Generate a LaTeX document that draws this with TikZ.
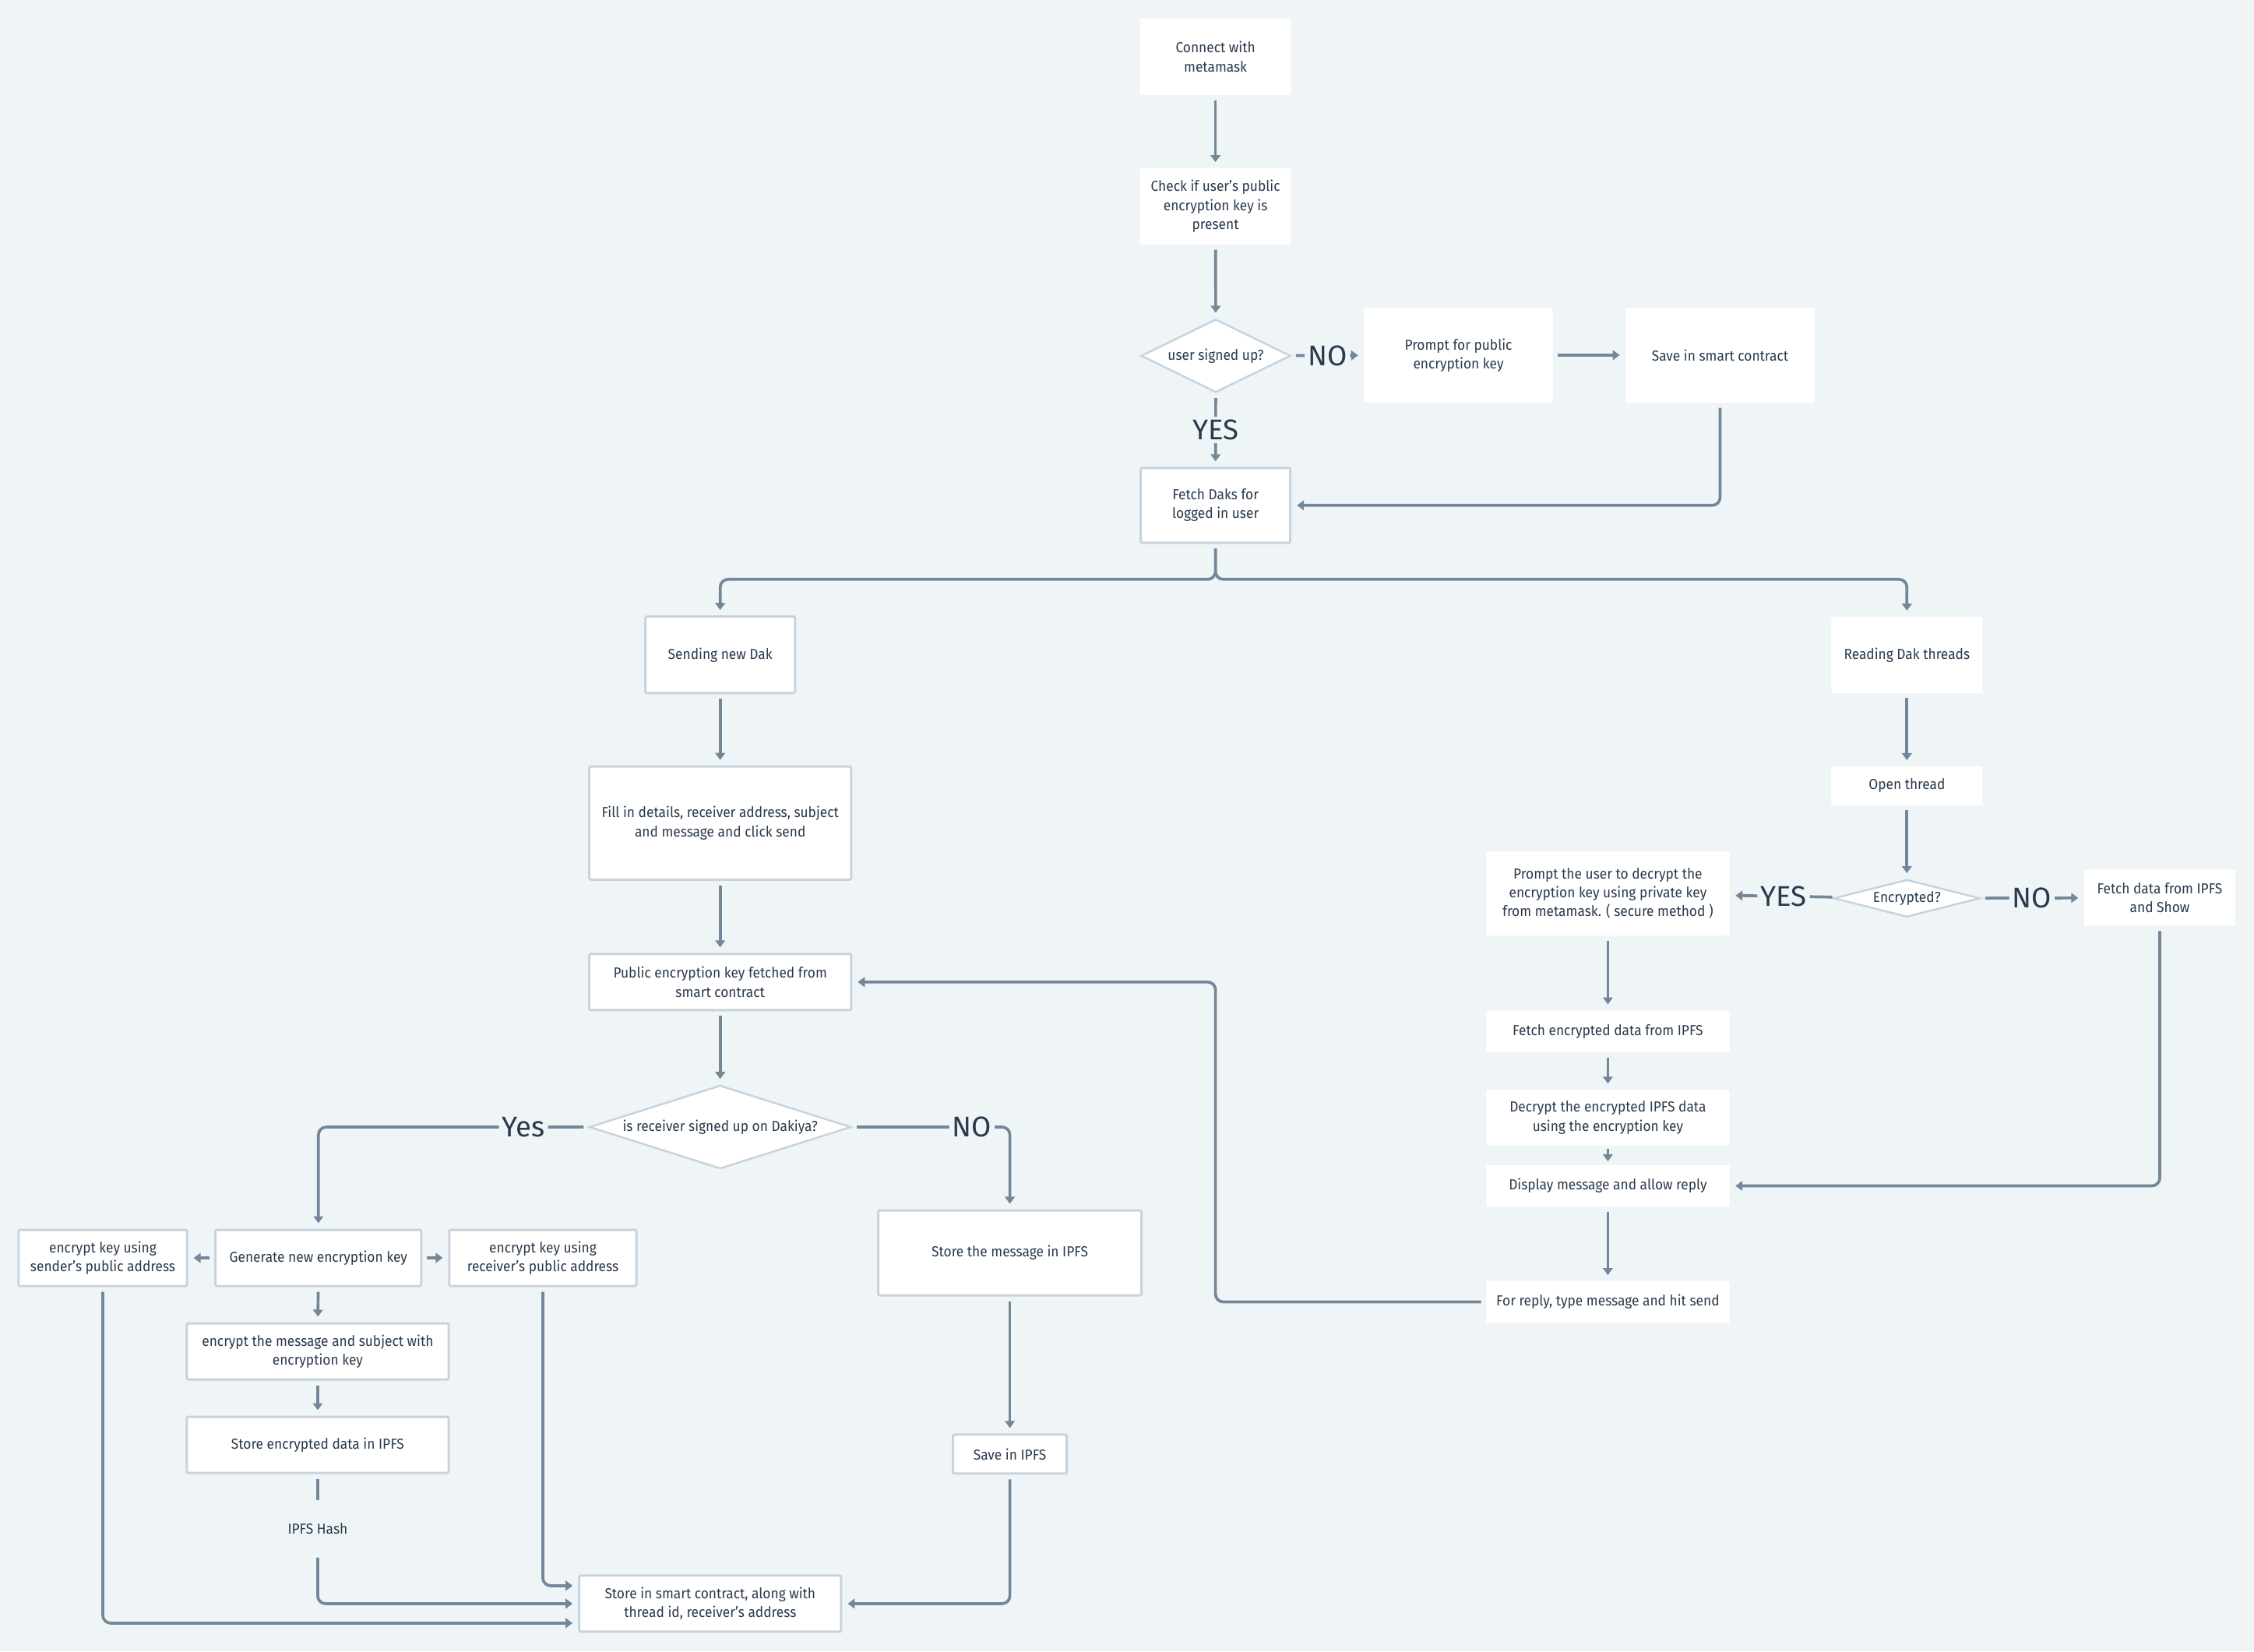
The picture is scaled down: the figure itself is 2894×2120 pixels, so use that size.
\documentclass[tikz,border=0pt]{standalone}
\usepackage{fontspec}
\setmainfont{Fira Sans}[FakeStretch=0.93]
\newfontfamily\tagfont{Fira Sans}
\usepackage{tikz}
\usetikzlibrary{shapes.geometric,arrows.meta}

\definecolor{bgcol}{HTML}{EFF4F7}
\definecolor{linecol}{HTML}{748798}
\definecolor{edgecol}{HTML}{C8D3DD}
\definecolor{inkcol}{HTML}{293A4C}

\tikzset{
  card/.style={rectangle, fill=white, rounded corners=0.02cm, align=center,
    text=inkcol, inner sep=0pt, font=\fontsize{5.3pt}{6.9pt}\selectfont},
  framed/.style={card, draw=edgecol, line width=0.03cm},
  choice/.style={diamond, fill=white, draw=edgecol, line width=0.025cm,
    align=center, text=inkcol, inner sep=0pt, font=\fontsize{5.3pt}{6.9pt}\selectfont},
  flow/.style={draw=linecol, line width=0.037cm, rounded corners=0.1cm,
    -{Triangle[width=0.125cm,length=0.09cm]}, shorten <=0.06cm, shorten >=0.07cm},
  plain/.style={flow, -},
  tag/.style={fill=bgcol, text=inkcol, inner sep=0.04cm,
    font=\tagfont\fontsize{10.4pt}{12pt}\selectfont}
}

\begin{document}
\begin{tikzpicture}[x=0.01cm,y=-0.01cm]
        % Background
        \fill[bgcol] (0,0) rectangle (2894,2120);
        \useasboundingbox (0,0) rectangle (2894,2120);

        % Nodes
        \node[card, minimum width=1.94cm, minimum height=0.98cm] (connect) at (1560.6,72.9) {Connect with\\metamask};
        \node[card, minimum width=1.94cm, minimum height=0.98cm] (check) at (1560.6,264.9) {Check if user's public\\encryption key is\\present};
        \node[choice, aspect=2.04, minimum width=1.92cm, minimum height=0.94cm] (signed) at (1561,456.8) {user signed up?};
        \node[card, minimum width=2.42cm, minimum height=1.22cm] (askkey) at (1872.5,455.9) {Prompt for public\\encryption key};
        \node[card, minimum width=2.42cm, minimum height=1.22cm] (savekey) at (2208.4,455.9) {Save in smart contract};
        \node[framed, minimum width=1.92cm, minimum height=0.96cm] (fetch) at (1560.6,648.8) {Fetch Daks for\\logged in user};
        \coordinate (split) at (1560.6,743.8);

        % sending branch
        \node[framed, minimum width=1.92cm, minimum height=0.98cm] (sending) at (924.7,840.7) {Sending new Dak};
        \node[framed, minimum width=3.36cm, minimum height=1.45cm] (fill) at (924.7,1056.7) {Fill in details, receiver address, subject\\and message and click send};
        \node[framed, minimum width=3.36cm, minimum height=0.72cm] (pubkey) at (924.7,1260.8) {Public encryption key fetched from\\smart contract};
        \node[choice, aspect=3.14, minimum width=3.36cm, minimum height=1.07cm] (recvq) at (924.7,1447) {is receiver signed up on Dakiya?};
        \node[framed, minimum width=2.64cm, minimum height=0.72cm] (genkey) at (408.8,1615) {Generate new encryption key};
        \node[framed, minimum width=2.16cm, minimum height=0.72cm] (sendkey) at (132,1615) {encrypt key using\\sender's public address};
        \node[framed, minimum width=2.40cm, minimum height=0.72cm] (recvkey) at (697,1615) {encrypt key using\\receiver's public address};
        \node[framed, minimum width=3.36cm, minimum height=0.72cm] (encmsg) at (407.9,1735) {encrypt the message and subject with\\encryption key};
        \node[framed, minimum width=3.36cm, minimum height=0.72cm] (storeenc) at (407.9,1855) {Store encrypted data in IPFS};
        \node[text=inkcol, font=\fontsize{5.3pt}{6.9pt}\selectfont, inner xsep=0pt, inner ysep=0.29cm] (hash) at (407.9,1963) {IPFS Hash};
        \node[framed, minimum width=3.38cm, minimum height=1.09cm] (storemsg) at (1296.6,1608.5) {Store the message in IPFS};
        \node[framed, minimum width=1.46cm, minimum height=0.50cm] (saveipfs) at (1296.6,1866.9) {Save in IPFS};
        \node[framed, minimum width=3.36cm, minimum height=0.72cm] (storesc) at (911.8,2058.9) {Store in smart contract, along with\\thread id, receiver's address};

        % reading branch
        \node[card, minimum width=1.94cm, minimum height=0.98cm] (reading) at (2448.3,840.7) {Reading Dak threads};
        \node[card, minimum width=1.94cm, minimum height=0.50cm] (openthr) at (2448.3,1008.7) {Open thread};
        \node[choice, aspect=3.9, minimum width=1.88cm, minimum height=0.48cm] (encq) at (2448.3,1153.3) {Encrypted?};
        \node[card, minimum width=3.12cm, minimum height=1.08cm] (askdec) at (2064.4,1147) {Prompt the user to decrypt the\\encryption key using private key\\from metamask. ( secure method )};
        \node[card, minimum width=1.94cm, minimum height=0.72cm] (fetchipfs) at (2773,1152.6) {Fetch data from IPFS\\and Show};
        \node[card, minimum width=3.12cm, minimum height=0.535cm] (fetchenc) at (2064.4,1324) {Fetch encrypted data from IPFS};
        \node[card, minimum width=3.12cm, minimum height=0.72cm] (decrypt) at (2064.4,1435) {Decrypt the encrypted IPFS data\\using the encryption key};
        \node[card, minimum width=3.12cm, minimum height=0.535cm] (display) at (2064.4,1522.5) {Display message and allow reply};
        \node[card, minimum width=3.12cm, minimum height=0.535cm] (reply) at (2064.4,1671.5) {For reply, type message and hit send};

        % Connectors
        \draw[flow] (connect) -- (check);
        \draw[flow] (check) -- (signed);
        \draw[flow] (signed) -- node[tag] {NO} (askkey);
        \draw[flow] (askkey) -- (savekey);
        \draw[flow] (signed) -- node[tag] {YES} (fetch);
        \draw[flow] (savekey.south) |- (fetch.east);
        \draw[flow] (fetch.south) -- (split) -| (sending.north);
        \draw[flow] (fetch.south) -- (split) -| (reading.north);

        \draw[flow] (sending) -- (fill);
        \draw[flow] (fill) -- (pubkey);
        \draw[flow] (pubkey) -- (recvq);
        \draw[flow] (recvq.west) -| node[tag, pos=0.12] {Yes} (genkey.north);
        \draw[flow] (recvq.east) -| node[tag, pos=0.38] {NO} (storemsg.north);
        \draw[flow] (genkey) -- (sendkey);
        \draw[flow] (genkey) -- (recvkey);
        \draw[flow] (genkey) -- (encmsg);
        \draw[flow] (encmsg) -- (storeenc);
        \draw[plain, shorten >=0pt] (storeenc) -- (hash);
        \draw[flow, shorten <=0pt] (hash.south) |- (storesc.west);
        \draw[flow] (recvkey.south) |- ([yshift=0.23cm]storesc.west);
        \draw[flow] (sendkey.south) |- ([yshift=-0.25cm]storesc.west);
        \draw[flow] (storemsg) -- (saveipfs);
        \draw[flow] (saveipfs.south) |- (storesc.east);

        \draw[flow] (reading) -- (openthr);
        \draw[flow] (openthr) -- (encq);
        \draw[flow] (encq) -- node[tag] {YES} (askdec);
        \draw[flow] (encq) -- node[tag] {NO} (fetchipfs);
        \draw[flow] (askdec) -- (fetchenc);
        \draw[flow] (fetchenc) -- (decrypt);
        \draw[flow, shorten <=0.03cm, shorten >=0.04cm] (decrypt) -- (display);
        \draw[flow] (display) -- (reply);
        \draw[flow] (fetchipfs.south) |- (display.east);
        \draw[flow] (reply.west) -| (split |- pubkey.east) -- (pubkey.east);
    \end{tikzpicture}
\end{document}
